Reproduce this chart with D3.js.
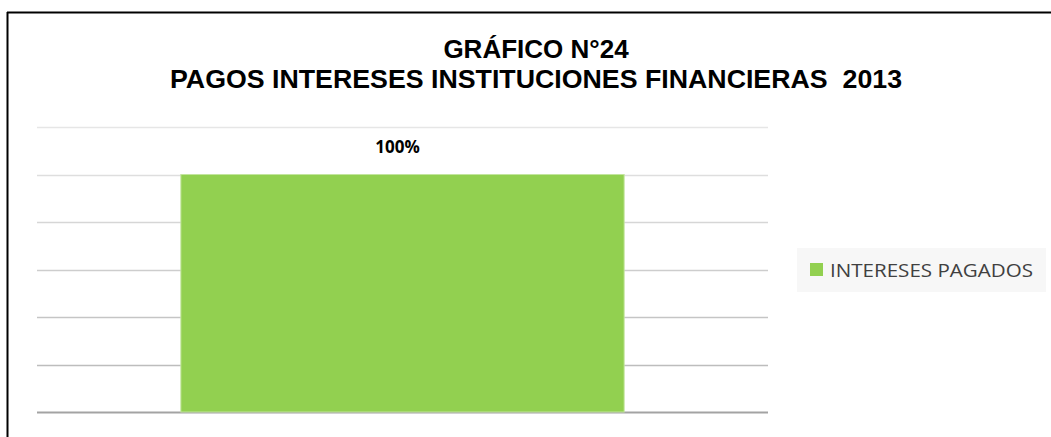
<!DOCTYPE html>
<html>
<head>
<meta charset="utf-8">
<script src="https://cdn.jsdelivr.net/npm/d3@7"></script>
<style>
  body { margin: 0; background: #fff; }
  svg { display: block; }
  text { white-space: pre; }
</style>
</head>
<body>
<div id="chart"></div>
<script>
// data
var titleLines = ["GRÁFICO N°24", "PAGOS INTERESES INSTITUCIONES FINANCIERAS  2013"];
var categories = ["INTERESES PAGADOS"];
var values = [1.0];
var labels = ["100%"];
var yTicks = [0, 0.2, 0.4, 0.6, 0.8, 1.0, 1.2];

function init() {
	var w = 1051;
	var h = 437;

	var plotLeft = 37, plotRight = 768;
	var plotTop = 127, plotBottom = 412;

	var svg = d3.select("#chart")
		.append("svg")
		.attr("width", w)
		.attr("height", h);

	// frame (left + top border of the pasted chart)
	svg.append("line")
		.attr("x1", 7).attr("y1", 12.5).attr("x2", w).attr("y2", 12.5)
		.attr("stroke", "#000").attr("stroke-width", 2);
	svg.append("line")
		.attr("x1", 7.5).attr("y1", 12).attr("x2", 7.5).attr("y2", h)
		.attr("stroke", "#000").attr("stroke-width", 2);

	// title
	svg.selectAll("text.title")
		.data(titleLines)
		.enter()
		.append("text")
		.attr("class", "title")
		.attr("x", 536)
		.attr("y", function(d, i) { return 58 + i * 30; })
		.attr("text-anchor", "middle")
		.attr("font-family", "Liberation Sans, Arial, sans-serif")
		.attr("font-weight", "bold")
		.attr("font-size", function(d, i) { return i === 0 ? 26 : 25; })
		.attr("fill", "#000")
		.each(function(d, i) {
			if (i === 1) {
				d3.select(this)
					.attr("textLength", 732)
					.attr("lengthAdjust", "spacingAndGlyphs");
			}
		})
		.text(function(d) { return d; });

	var xScale = d3.scaleBand()
		.domain(categories)
		.range([plotLeft, plotRight])
		.paddingInner(0.245)
		.paddingOuter(0.245);

	var yScale = d3.scaleLinear()
		.domain([0, 1.2])
		.range([plotBottom, plotTop]);

	// gridlines get a bit darker toward the bottom in the reference
	var gridColor = d3.scaleLinear()
		.domain([0, 0.2, 1.2])
		.range(["#a3a3a3", "#bdbdbd", "#e6e6e6"]);

	svg.append("g")
		.selectAll("line")
		.data(yTicks)
		.enter()
		.append("line")
		.attr("x1", plotLeft)
		.attr("x2", plotRight)
		.attr("y1", function(d) { return Math.round(yScale(d)) + 0.5; })
		.attr("y2", function(d) { return Math.round(yScale(d)) + 0.5; })
		.attr("stroke", function(d) { return gridColor(d); })
		.attr("stroke-width", function(d) { return d === 0 ? 2 : 1.5; });

	// bar
	svg.selectAll("rect.bar")
		.data(values)
		.enter()
		.append("rect")
		.attr("class", "bar")
		.attr("x", function(d, i) { return xScale(categories[i]); })
		.attr("y", function(d) { return yScale(d); })
		.attr("width", xScale.bandwidth())
		.attr("height", function(d) { return yScale(0) - yScale(d); })
		.attr("fill", "#92d050")
		.attr("stroke", "#c3e59e")
		.attr("stroke-width", 1);

	// data label
	svg.selectAll("text.label")
		.data(values)
		.enter()
		.append("text")
		.attr("class", "label")
		.attr("x", function(d, i) { return xScale(categories[i]) + xScale.bandwidth() / 2 - 5; })
		.attr("y", function(d) { return yScale(d) - 22; })
		.attr("text-anchor", "middle")
		.attr("font-family", "Open Sans, sans-serif")
		.attr("font-weight", "bold")
		.attr("font-size", 17)
		.attr("fill", "#000")
		.text(function(d, i) { return labels[i]; });

	// legend
	var legend = svg.append("g").attr("transform", "translate(797,248)");
	legend.append("rect")
		.attr("width", 249)
		.attr("height", 44)
		.attr("fill", "#f7f7f7");
	legend.append("rect")
		.attr("x", 13).attr("y", 15)
		.attr("width", 13).attr("height", 13)
		.attr("fill", "#92d050");
	legend.append("text")
		.attr("x", 33)
		.attr("y", 29)
		.attr("font-family", "Open Sans, sans-serif")
		.attr("font-size", 18)
		.attr("fill", "#404040")
		.attr("textLength", 203)
		.attr("lengthAdjust", "spacingAndGlyphs")
		.text(categories[0]);
}

window.onload = init;
</script>
</body>
</html>
